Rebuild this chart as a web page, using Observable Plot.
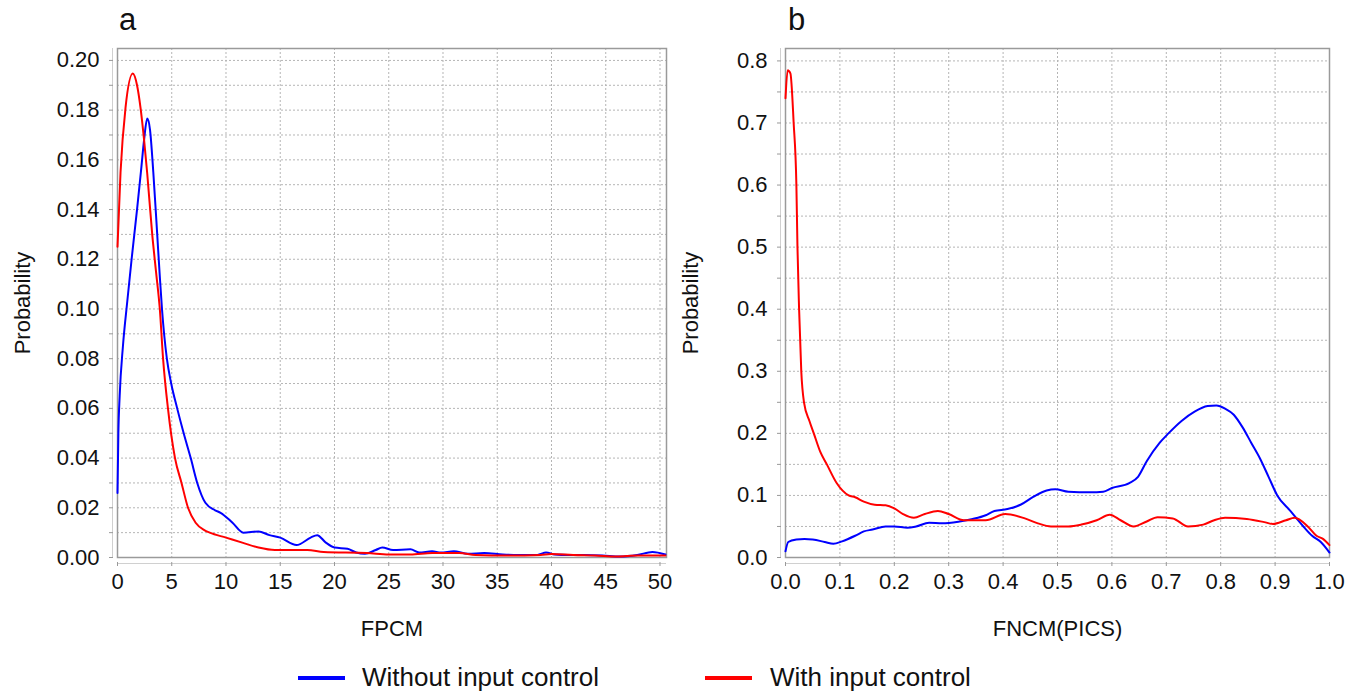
<!DOCTYPE html>
<html>
<head>
<meta charset="utf-8">
<script src="https://cdn.jsdelivr.net/npm/d3@7"></script>
<script src="https://cdn.jsdelivr.net/npm/@observablehq/plot@0.6"></script>
<style>
  html, body { margin: 0; padding: 0; background: #fff; }
  body { font-family: "Liberation Sans", Arial, sans-serif; color: #111; }
  #root { position: relative; width: 1361px; height: 694px; overflow: hidden; }
  .panel { position: absolute; top: 40px; }
  .tag { position: absolute; top: 0px; font-size: 31px; line-height: 40px; color: #111; }
  .sw { position: absolute; top: 676px; width: 47px; height: 4px; }
  .lg { position: absolute; top: 661px; font-size: 26px; line-height: 32px; color: #111; white-space: nowrap; }
</style>
</head>
<body>
<div id="root">
  <div class="tag" style="left:119px">a</div>
  <div class="tag" style="left:788px">b</div>
  <div id="pa" class="panel" style="left:0px"></div>
  <div id="pb" class="panel" style="left:680px"></div>
  <div class="sw" style="left:298px;background:#0000ff"></div>
  <div class="lg" style="left:362px">Without input control</div>
  <div class="sw" style="left:705px;background:#ff0000"></div>
  <div class="lg" style="left:770px">With input control</div>
</div>
<script>
// ---------- Data: panel a (FPCM) ----------
const aBlueX = [0, 0.08, 0.2, 0.5, 0.9, 1.3, 1.8, 2.2, 2.45, 2.74, 3.0, 3.3, 3.66, 3.9, 4.1, 4.55, 4.95, 5.5, 6.1, 6.75, 7.35, 8.1, 9.0, 9.5, 10.6, 11.6, 13.0, 14.0, 15.0, 16.5, 17.8, 18.4, 19.2, 20.0, 21.2, 22.0, 22.8, 23.8, 24.4, 25.4, 27.0, 27.8, 29.0, 29.8, 31.0, 32.3, 33.8, 35.5, 37.0, 38.7, 39.5, 40.3, 41.5, 43.0, 44.7, 46.3, 47.9, 49.3, 50.5];
const aBlueY = [0.026, 0.05, 0.065, 0.085, 0.103, 0.12, 0.14, 0.157, 0.168, 0.1766, 0.172, 0.155, 0.13, 0.113, 0.10, 0.08, 0.07, 0.06, 0.05, 0.04, 0.03, 0.022, 0.019, 0.018, 0.014, 0.010, 0.0105, 0.009, 0.008, 0.005, 0.008, 0.009, 0.006, 0.004, 0.0035, 0.002, 0.0015, 0.003, 0.004, 0.003, 0.0033, 0.002, 0.0025, 0.002, 0.0025, 0.0015, 0.0018, 0.0012, 0.001, 0.001, 0.002, 0.0012, 0.001, 0.001, 0.0008, 0.0004, 0.001, 0.0022, 0.0012];
const aRedX = [0, 0.28, 0.74, 1.41, 1.8, 2.12, 2.45, 2.74, 3.2, 3.55, 3.9, 4.2, 4.65, 5.3, 5.9, 6.5, 7.2, 8.0, 8.5, 10.0, 11.5, 13.0, 14.5, 17.5, 19.0, 23.0, 25.0, 27.0, 29.0, 31.5, 33.0, 36.0, 39.0, 40.0, 42.0, 44.0, 46.0, 48.0, 50.5];
const aRedY = [0.125, 0.155, 0.181, 0.1947, 0.19, 0.181, 0.168, 0.1545, 0.13, 0.115, 0.10, 0.08, 0.06, 0.04, 0.03, 0.02, 0.014, 0.011, 0.010, 0.008, 0.006, 0.004, 0.003, 0.003, 0.0022, 0.0018, 0.0012, 0.0012, 0.0018, 0.0018, 0.001, 0.0008, 0.001, 0.0014, 0.001, 0.0008, 0.0004, 0.0008, 0.0008];

// ---------- Data: panel b (FNCM(PICS)) ----------
const bBlueX = [0, 0.005, 0.02, 0.035, 0.05, 0.072, 0.088, 0.104, 0.128, 0.144, 0.16, 0.184, 0.2, 0.224, 0.24, 0.264, 0.288, 0.32, 0.344, 0.368, 0.384, 0.408, 0.432, 0.456, 0.48, 0.496, 0.52, 0.56, 0.584, 0.6, 0.632, 0.648, 0.664, 0.688, 0.704, 0.728, 0.752, 0.776, 0.792, 0.808, 0.824, 0.84, 0.856, 0.872, 0.888, 0.904, 0.928, 0.952, 0.968, 0.984, 1.0];
const bBlueY = [0.01, 0.025, 0.029, 0.03, 0.029, 0.025, 0.022, 0.026, 0.035, 0.042, 0.045, 0.05, 0.05, 0.048, 0.05, 0.056, 0.055, 0.058, 0.062, 0.068, 0.075, 0.078, 0.085, 0.098, 0.108, 0.11, 0.106, 0.105, 0.106, 0.112, 0.12, 0.13, 0.155, 0.185, 0.2, 0.22, 0.235, 0.244, 0.245, 0.24, 0.23, 0.21, 0.185, 0.16, 0.13, 0.10, 0.075, 0.05, 0.035, 0.025, 0.008];
const bRedX = [0, 0.004, 0.009, 0.015, 0.02, 0.022, 0.025, 0.029, 0.034, 0.044, 0.052, 0.064, 0.076, 0.094, 0.116, 0.128, 0.144, 0.164, 0.184, 0.2, 0.216, 0.236, 0.256, 0.28, 0.3, 0.328, 0.368, 0.404, 0.44, 0.464, 0.488, 0.52, 0.544, 0.572, 0.596, 0.616, 0.64, 0.664, 0.684, 0.712, 0.74, 0.768, 0.788, 0.808, 0.848, 0.88, 0.896, 0.92, 0.936, 0.96, 0.976, 0.988, 1.0];
const bRedY = [0.74, 0.785, 0.78, 0.7, 0.6, 0.5, 0.4, 0.3, 0.25, 0.22, 0.2, 0.17, 0.15, 0.12, 0.10, 0.097, 0.09, 0.085, 0.084, 0.079, 0.07, 0.064, 0.07, 0.075, 0.07, 0.06, 0.06, 0.07, 0.063, 0.055, 0.05, 0.05, 0.053, 0.06, 0.069, 0.06, 0.05, 0.058, 0.065, 0.063, 0.05, 0.053, 0.06, 0.064, 0.062, 0.057, 0.054, 0.06, 0.064, 0.05, 0.035, 0.03, 0.02];

// ---------- Axis ticks & labels ----------
const aXTicks = [0, 5, 10, 15, 20, 25, 30, 35, 40, 45, 50];
const aYTicks = [0, 0.01, 0.02, 0.03, 0.04, 0.05, 0.06, 0.07, 0.08, 0.09, 0.10, 0.11, 0.12, 0.13, 0.14, 0.15, 0.16, 0.17, 0.18, 0.19, 0.20];
const bXTicks = [0, 0.1, 0.2, 0.3, 0.4, 0.5, 0.6, 0.7, 0.8, 0.9, 1.0];
const bYTicks = [0, 0.05, 0.1, 0.15, 0.2, 0.25, 0.3, 0.35, 0.4, 0.45, 0.5, 0.55, 0.6, 0.65, 0.7, 0.75, 0.8];
const seriesNames = ["Without input control", "With input control"];
const seriesColors = ["#0000ff", "#ff0000"];

const toRows = (xs, ys, s) => xs.map((x, i) => ({x, y: ys[i], s}));

function panel({rows, xDomain, yDomain, xTicks, yTicks, xFmt, yLabelTest, yFmt, xLabel, marginLeft, marginRight, width}) {
  const font = "Liberation Sans, Arial, sans-serif";
  return Plot.plot({
    width, height: 610,
    marginLeft, marginRight, marginTop: 8, marginBottom: 93,
    style: {fontFamily: font, background: "transparent", color: "#111", overflow: "visible"},
    x: {domain: xDomain},
    y: {domain: yDomain},
    color: {domain: seriesNames, range: seriesColors},
    marks: [
      Plot.gridY(yTicks, {stroke: "#b5b5b5", strokeOpacity: 1, strokeDasharray: "2,2"}),
      Plot.gridX(xTicks, {stroke: "#b5b5b5", strokeOpacity: 1, strokeDasharray: "2,2"}),
      Plot.ruleX([xDomain[0]], {dx: -5, stroke: "#d0d0d0"}),
      Plot.ruleY([yDomain[0]], {dy: 6, stroke: "#d0d0d0"}),
      Plot.axisY(yTicks, {
        tickSize: 4, dx: -4, tickPadding: 10, fontSize: 22, stroke: "#999", fill: "#111",
        tickFormat: d => yLabelTest(d) ? yFmt(d) : "",
        label: "Probability", labelAnchor: "center", labelArrow: "none", labelOffset: 103
      }),
      Plot.axisX(xTicks, {
        tickSize: 4, dy: 5, tickPadding: 7, fontSize: 22, stroke: "#999", fill: "#111",
        tickFormat: xFmt,
        label: xLabel, labelAnchor: "center", labelArrow: "none", labelOffset: 78
      }),
      Plot.frame({stroke: "#9a9a9a", strokeWidth: 1.5}),
      Plot.line(rows, {x: "x", y: "y", z: "s", stroke: "s", strokeWidth: 2, curve: "monotone-x"})
    ]
  });
}

const rowsA = [...toRows(aBlueX, aBlueY, seriesNames[0]), ...toRows(aRedX, aRedY, seriesNames[1])];
const rowsB = [...toRows(bBlueX, bBlueY, seriesNames[0]), ...toRows(bRedX, bRedY, seriesNames[1])];

document.getElementById("pa").append(panel({
  rows: rowsA, xDomain: [0, 50.6], yDomain: [0, 0.2048],
  xTicks: aXTicks, yTicks: aYTicks, xFmt: d3.format("d"),
  yLabelTest: d => Math.round(d * 100) % 2 === 0, yFmt: d3.format(".2f"),
  xLabel: "FPCM", marginLeft: 117, marginRight: 14, width: 680
}));
document.getElementById("pb").append(panel({
  rows: rowsB, xDomain: [0, 1.0], yDomain: [0, 0.82],
  xTicks: bXTicks, yTicks: bYTicks, xFmt: d3.format(".1f"),
  yLabelTest: d => Math.round(d * 100) % 10 === 0, yFmt: d3.format(".1f"),
  xLabel: "FNCM(PICS)", marginLeft: 105, marginRight: 32, width: 681
}));
</script>
</body>
</html>
